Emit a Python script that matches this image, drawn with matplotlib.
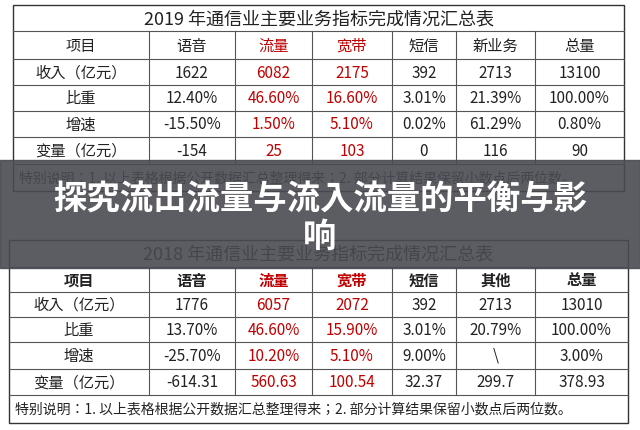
import matplotlib
matplotlib.use("Agg")
import matplotlib.pyplot as plt
from matplotlib.patches import Rectangle

plt.rcParams["font.family"] = ["Noto Sans CJK JP", "Noto Sans CJK SC", "DejaVu Sans"]

# 数据
cols_2019 = ["项目", "语音", "流量", "宽带", "短信", "新业务", "总量"]
cols_2018 = ["项目", "语音", "流量", "宽带", "短信", "其他", "总量"]
row_names = ["收入（亿元）", "比重", "增速", "变量（亿元）"]
rows_2019 = [
    ["1622", "6082", "2175", "392", "2713", "13100"],
    ["12.40%", "46.60%", "16.60%", "3.01%", "21.39%", "100.00%"],
    ["-15.50%", "1.50%", "5.10%", "0.02%", "61.29%", "0.80%"],
    ["-154", "25", "103", "0", "116", "90"],
]
rows_2018 = [
    ["1776", "6057", "2072", "392", "2713", "13010"],
    ["13.70%", "46.60%", "15.90%", "3.01%", "20.79%", "100.00%"],
    ["-25.70%", "10.20%", "5.10%", "9.00%", "\\", "3.00%"],
    ["-614.31", "560.63", "100.54", "32.37", "299.7", "378.93"],
]
title_2019 = "2019 年通信业主要业务指标完成情况汇总表"
title_2018 = "2018 年通信业主要业务指标完成情况汇总表"
note = "特别说明：1. 以上表格根据公开数据汇总整理得来；2. 部分计算结果保留小数点后两位数。"
headline = "探究流出流量与流入流量的平衡与影\n响"

red_cols = {2, 3}

fig = plt.figure(figsize=(6.4, 4.31), dpi=100)
ax = fig.add_axes([0, 0, 1, 1])
ax.set_xlim(0, 640)
ax.set_ylim(431, 0)
ax.axis("off")


def draw_table(xs, ys, title, cols, rows, bold_header):
    lw = 0.8
    x0, x1 = xs[0], xs[-1]
    ax.add_patch(Rectangle((x0, ys[0]), x1 - x0, ys[-1] - ys[0], fill=False, lw=1.0, ec="#333333"))
    for y in ys[1:-1]:
        ax.plot([x0, x1], [y, y], color="#555555", lw=lw)
    for x in xs[1:-1]:
        ax.plot([x, x], [ys[1], ys[-2]], color="#555555", lw=lw)
    ax.text((x0 + x1) / 2, (ys[0] + ys[1]) / 2, title, ha="center", va="center",
            fontsize=13, color="#222222")
    for j, c in enumerate(cols):
        cx = (xs[j] + xs[j + 1]) / 2
        ax.text(cx, (ys[1] + ys[2]) / 2, c, ha="center", va="center", fontsize=11,
                color="#c00000" if j in red_cols else "#222222",
                fontweight="bold" if bold_header else "normal")
    for i, (name, vals) in enumerate(zip(row_names, rows)):
        cy = (ys[i + 2] + ys[i + 3]) / 2
        ax.text((xs[0] + xs[1]) / 2, cy, name, ha="center", va="center", fontsize=11, color="#222222")
        for j, v in enumerate(vals, start=1):
            ax.text((xs[j] + xs[j + 1]) / 2, cy, v, ha="center", va="center", fontsize=11,
                    color="#c00000" if j in red_cols else "#222222")
    ax.text(x0 + 6, (ys[-2] + ys[-1]) / 2, note, ha="left", va="center", fontsize=10, color="#222222")


xs_top = [13, 149, 235, 312, 392, 456, 535, 624]
ys_top = [6, 32, 60, 86, 112, 138, 165, 192]
xs_bot = [9, 149, 235, 312, 392, 456, 535, 628]
ys_bot = [241, 268, 293, 318, 343, 370, 396, 424]

draw_table(xs_top, ys_top, title_2019, cols_2019, rows_2019, False)
draw_table(xs_bot, ys_bot, title_2018, cols_2018, rows_2018, True)

# 遮罩横幅
ax.add_patch(Rectangle((0, 161), 640, 108, color="#4a4a52", alpha=0.9, zorder=5))
ax.text(320, 219, headline, ha="center", va="center", fontsize=24, fontweight="bold",
        color="white", zorder=6, linespacing=1.15)

fig.savefig("out.png", dpi=100)
